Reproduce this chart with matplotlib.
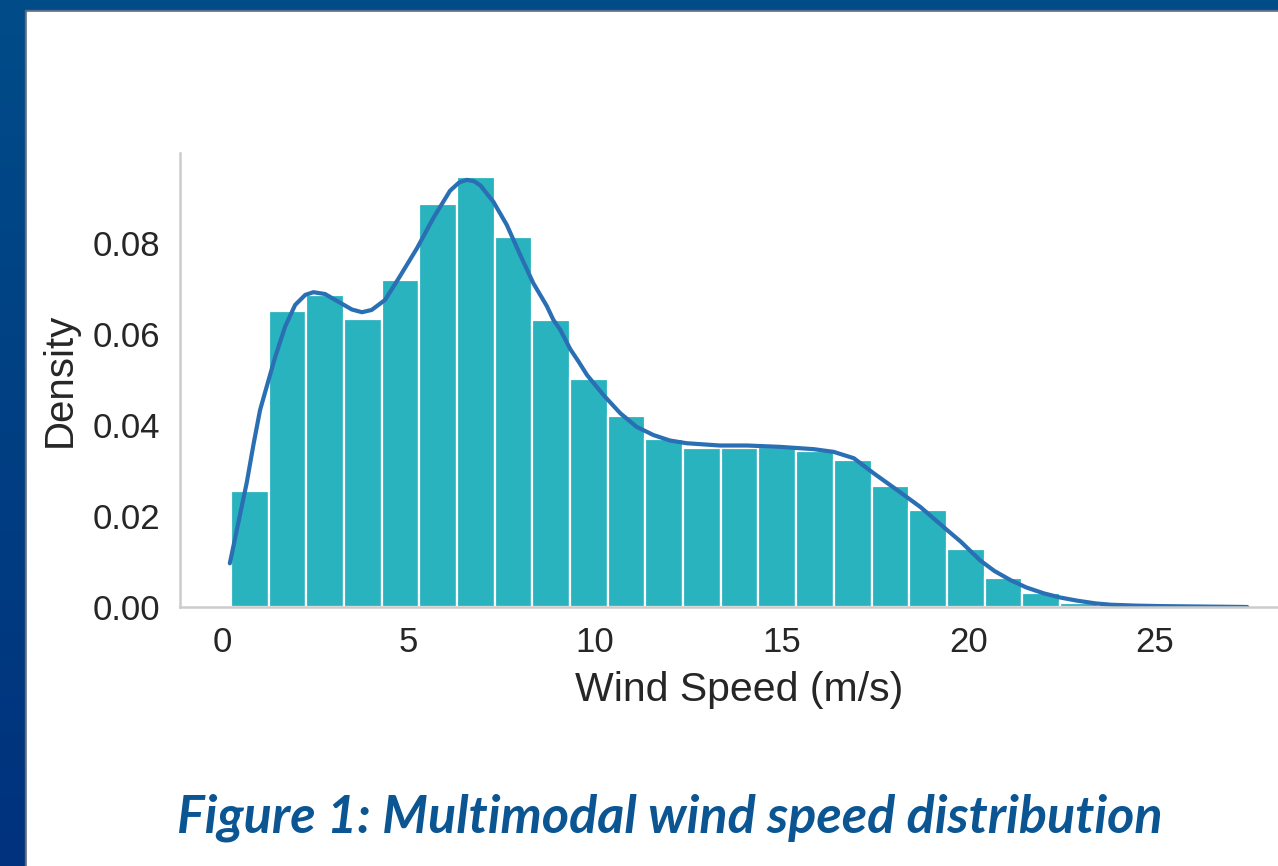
"""
Histogram + KDE of wind speed, recreated from a slide figure.
"""

import numpy as np
import matplotlib
matplotlib.use("Agg")
import matplotlib.pyplot as plt

# histogram bins (m/s) and bar heights (density)
bin_start = 0.24
bin_width = 1.0096
bar_density = [0.0255, 0.0650, 0.0686, 0.0633, 0.0719, 0.0886, 0.0945,
               0.0813, 0.0631, 0.0501, 0.0420, 0.0369, 0.0349, 0.0349,
               0.0351, 0.0343, 0.0324, 0.0267, 0.0214, 0.0128, 0.0063,
               0.0031, 0.0009, 0.0003, 0.0001, 0.0001, 0.0001]

# kde curve, sampled by eye
kde_x = [0.21, 0.45, 0.66, 0.85, 1.02, 1.20, 1.42, 1.69, 1.96, 2.23, 2.45,
         2.76, 3.12, 3.48, 3.75, 4.01, 4.37, 4.73, 5.22, 5.67, 6.11, 6.35,
         6.56, 6.75, 6.92, 7.27, 7.63, 7.99, 8.34, 8.70, 8.88, 9.06, 9.33,
         9.55, 9.78, 10.22, 10.67, 11.11, 11.56, 12.00, 12.45, 13.34,
         14.07, 14.96, 15.85, 16.39, 16.93, 17.46, 18.09, 18.71, 19.43,
         19.79, 20.32, 20.70, 21.13, 21.55, 22.02, 22.45, 22.91, 23.40,
         23.81, 24.50, 25.15, 26.30, 27.47]
kde_y = [0.0096, 0.0190, 0.0272, 0.0360, 0.0433, 0.0485, 0.0548, 0.0616,
         0.0664, 0.0686, 0.0692, 0.0688, 0.0671, 0.0654, 0.0648, 0.0653,
         0.0675, 0.0722, 0.0788, 0.0856, 0.0915, 0.0933, 0.0939, 0.0936,
         0.0927, 0.0891, 0.0840, 0.0774, 0.0712, 0.0662, 0.0631, 0.0610,
         0.0567, 0.0540, 0.0510, 0.0466, 0.0426, 0.0396, 0.0378, 0.0366,
         0.0360, 0.0355, 0.0355, 0.0352, 0.0347, 0.0341, 0.0327, 0.0294,
         0.0257, 0.0220, 0.0169, 0.0144, 0.0102, 0.0079, 0.0059, 0.0043,
         0.0030, 0.0021, 0.0014, 0.0008, 0.0005, 0.0003, 0.0002, 0.0001,
         0.0000]

x_ticks = [0, 5, 10, 15, 20, 25]
y_ticks = [0.00, 0.02, 0.04, 0.06, 0.08]

caption = "Figure 1: Multimodal wind speed distribution"

BAR_COLOR = "#29b3bf"
LINE_COLOR = "#2a6fb3"
CAPTION_COLOR = "#0a5592"
TEXT_COLOR = "#262626"

W, H = 1278, 866
fig = plt.figure(figsize=(W / 100, H / 100), dpi=100)

# blue slide frame behind a white panel
bg = fig.add_axes([0, 0, 1, 1])
grad = np.linspace(0, 1, 256).reshape(-1, 1)
frame_cmap = matplotlib.colors.LinearSegmentedColormap.from_list(
    "frame", ["#004c89", "#00327d"])
bg.imshow(grad, cmap=frame_cmap, aspect="auto", extent=[0, W, H, 0])
bg.add_patch(plt.Rectangle((25, 10), W, H, color="#5d6c82", zorder=2))
bg.add_patch(plt.Rectangle((27, 12), W, H, color="white", zorder=3))
bg.set_xlim(0, W)
bg.set_ylim(H, 0)
bg.axis("off")

# main axes, right side runs past the edge like in the original crop
ax = fig.add_axes([180 / W, 259 / H, 1118 / W, 454 / H])
edges = bin_start + bin_width * np.arange(len(bar_density) + 1)
ax.bar(edges[:-1], bar_density, width=np.diff(edges), align="edge",
       color=BAR_COLOR, edgecolor="white", linewidth=1.6)
ax.plot(kde_x, kde_y, color=LINE_COLOR, linewidth=3,
        solid_capstyle="round", solid_joinstyle="round")

ax.set_xlim(-1.125, 28.83)
ax.set_ylim(0, 0.0998)
ax.set_xticks(x_ticks)
ax.set_yticks(y_ticks)
ax.set_yticklabels([f"{v:.2f}" for v in y_ticks])

font = ["Liberation Sans", "DejaVu Sans"]
ax.tick_params(length=0, labelsize=25, labelcolor=TEXT_COLOR, pad=14)
for lab in ax.get_xticklabels() + ax.get_yticklabels():
    lab.set_family(font)
ax.set_xlabel("Wind Speed (m/s)", fontsize=29.5, color=TEXT_COLOR,
              family=font, labelpad=8)
ax.set_ylabel("Density", fontsize=29, color=TEXT_COLOR, family=font,
              labelpad=10)

for side in ["top", "right"]:
    ax.spines[side].set_visible(False)
for side in ["left", "bottom"]:
    ax.spines[side].set_color("#cccccc")
    ax.spines[side].set_linewidth(1.8)
ax.set_facecolor("none")

fig.text(670 / W, 1 - 818 / H, caption, ha="center", va="center",
         fontsize=37.5, fontweight="bold", fontstyle="italic",
         color=CAPTION_COLOR, family=["Lato", "DejaVu Sans"])

fig.savefig("out.png", dpi=100)
